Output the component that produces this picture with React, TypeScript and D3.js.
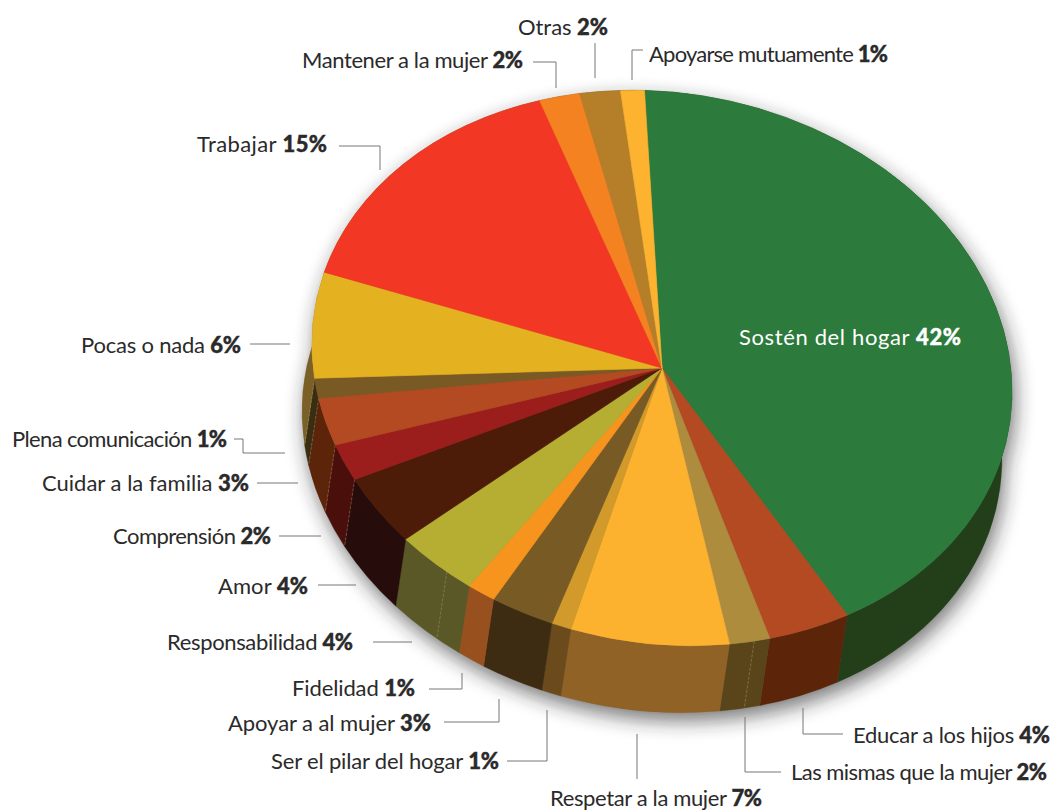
import React from "react";
import * as d3 from "d3";

// Data, clockwise from the top of the pie
const categories = [
  "Sostén del hogar", "Educar a los hijos", "Las mismas que la mujer", "Respetar a la mujer",
  "Ser el pilar del hogar", "Apoyar a al mujer", "Fidelidad", "Responsabilidad", "Amor",
  "Comprensión", "Cuidar a la familia", "Plena comunicación", "Pocas o nada", "Trabajar",
  "Mantener a la mujer", "Otras", "Apoyarse mutuamente",
];
const printedPercents = [42, 4, 2, 7, 1, 3, 1, 4, 4, 2, 3, 1, 6, 15, 2, 2, 1];
const sliceShares = [42, 3.9, 1.9, 7.3, 0.9, 2.9, 1.3, 3.8, 4, 2.1, 2.75, 1.15, 6.2, 15.1, 1.9, 1.9, 1.1];

// Styling and layout
const topColors = [
  "#2c7a3c", "#b34a22", "#ad8c3e", "#fdb22f", "#d19a2a", "#785a25", "#f7941e", "#b5ae33", "#4d1c08",
  "#9b1e1c", "#b34a22", "#7a5a24", "#e4b220", "#f23724", "#f58220", "#b57f2a", "#fdb330",
];
const wallColors = [
  "#223f1a", "#5c2409", "#5a451b", "#906225", "#6b4a1b", "#3d2c12", "#99501f", "#5a5826", "#260c0b",
  "#4a0f0a", "#5c2409", "#3b2d12", "#7a5f27", "#7a5f27", "#7a5f27", "#7a5f27", "#223f1a",
];
const wallSeams = [
  { slice: 2, frac: 0.39 },
  { slice: 7, frac: 0.33 },
  { slice: 9, frac: 0 },
  { slice: 9, frac: 1 },
  { slice: 10, frac: 1 },
  { slice: 11, frac: 1 },
];
type Lay = { x: number; y: number; w: number; leader: [number, number][] };
const layouts: Lay[] = [
  { x: 739, y: 345, w: 222, leader: [] },
  { x: 853, y: 743, w: 197, leader: [[803, 708], [803, 734], [843, 734]] },
  { x: 791, y: 780, w: 256, leader: [[745, 717], [745, 772], [781, 772]] },
  { x: 550, y: 806, w: 212, leader: [[637, 734], [637, 779]] },
  { x: 271, y: 769, w: 228, leader: [[507, 761], [547, 761], [547, 710]] },
  { x: 228, y: 731, w: 203, leader: [[444, 722], [499, 722], [499, 699]] },
  { x: 292, y: 696, w: 123, leader: [[429, 689], [462, 689], [462, 673]] },
  { x: 167, y: 650, w: 186, leader: [[373, 642], [412, 642]] },
  { x: 218, y: 594, w: 90, leader: [[318, 585], [356, 585]] },
  { x: 113, y: 544, w: 158, leader: [[279, 536], [321, 536]] },
  { x: 42, y: 491, w: 207, leader: [[257, 483], [298, 483]] },
  { x: 12, y: 447, w: 215, leader: [[234, 439], [243, 439], [243, 453], [285, 453]] },
  { x: 81, y: 353, w: 160, leader: [[250, 344], [290, 344]] },
  { x: 197, y: 152, w: 130, leader: [[339, 146], [380, 146], [380, 170]] },
  { x: 302, y: 68, w: 221, leader: [[533, 62], [556, 62], [556, 88]] },
  { x: 518, y: 35, w: 90, leader: [[595, 43], [595, 78]] },
  { x: 649, y: 62, w: 239, leader: [[643, 50], [632, 50], [632, 80]] },
];

const W = 1053;
const H = 812;
const CX = 662;
const CY = 368;
const RA = 352;
const RB = 275;
const TILT = 10;
const EX = -10;
const EY = 67;
const START = (-10.7 * Math.PI) / 180;
const FONT = "Lato, 'Open Sans', sans-serif";

const tiltRad = (TILT * Math.PI) / 180;
function rim(t: number): [number, number] {
  const lx = RA * Math.sin(t);
  const ly = -RB * Math.cos(t);
  return [
    CX + lx * Math.cos(tiltRad) - ly * Math.sin(tiltRad),
    CY + lx * Math.sin(tiltRad) + ly * Math.cos(tiltRad),
  ];
}
function wallPath(a0: number, a1: number): string {
  const [x0, y0] = rim(a0);
  const [x1, y1] = rim(a1);
  const large = a1 - a0 > Math.PI ? 1 : 0;
  return (
    `M${x0},${y0}A${RA},${RB} ${TILT} ${large} 1 ${x1},${y1}` +
    `L${x1 + EX},${y1 + EY}A${RA},${RB} ${TILT} ${large} 0 ${x0 + EX},${y0 + EY}Z`
  );
}

const pieLayout = d3
  .pie<number>()
  .value((d) => d)
  .sort(null)
  .startAngle(START)
  .endAngle(START + 2 * Math.PI);
const slices = pieLayout(sliceShares);
const arcGen = d3.arc<d3.PieArcDatum<number>>().innerRadius(0).outerRadius(1);
const lineGen = d3.line();
const ellipseTransform = `translate(${CX},${CY}) rotate(${TILT}) scale(${RA},${RB})`;

export default function App() {
  return (
    <svg
      width={W}
      height={H}
      viewBox={`0 0 ${W} ${H}`}
      style={{ position: "absolute", left: 0, top: 0, display: "block", background: "#fff" }}
    >
      <defs>
        <filter id="soft" x="-20%" y="-20%" width="140%" height="140%">
          <feGaussianBlur stdDeviation="10" />
        </filter>
      </defs>
      <g filter="url(#soft)" opacity={0.62} transform="translate(3,8)">
        {slices.map((s, i) => (
          <path key={i} d={wallPath(s.startAngle, s.endAngle)} fill="#222" />
        ))}
        <path d={arcGen({ ...slices[0], startAngle: 0, endAngle: 2 * Math.PI }) as string} transform={ellipseTransform} fill="#222" />
      </g>
      {slices.map((s, i) => (
        <path key={i} d={wallPath(s.startAngle, s.endAngle)} fill={wallColors[i]} stroke={wallColors[i]} strokeWidth={0.4} />
      ))}
      {wallSeams.map((seam, i) => {
        const s = slices[seam.slice];
        const [x, y] = rim(s.startAngle + (s.endAngle - s.startAngle) * seam.frac);
        return (
          <path
            key={i}
            d={lineGen([[x, y], [x + EX, y + EY]]) as string}
            stroke="#c9bd9a"
            strokeOpacity={0.45}
            strokeWidth={0.7}
            strokeDasharray="3 1.5"
            fill="none"
          />
        );
      })}
      <g transform={ellipseTransform}>
        {slices.map((s, i) => (
          <path key={i} d={arcGen(s) as string} fill={topColors[i]} stroke={topColors[i]} strokeWidth={0.002} />
        ))}
      </g>
      {layouts.map((l, i) =>
        l.leader.length ? (
          <path key={i} d={lineGen(l.leader) as string} fill="none" stroke="#777" strokeWidth={1} />
        ) : null
      )}
      {categories.map((c, i) => (
        <text
          key={c}
          x={layouts[i].x}
          y={layouts[i].y}
          textLength={layouts[i].w}
          lengthAdjust="spacing"
          fontFamily={FONT}
          fontSize={22}
          fill={i === 0 ? "#fff" : "#2b2a2a"}
        >
          {c + " "}
          <tspan fontWeight={900} stroke={i === 0 ? "#fff" : "#2b2a2a"} strokeWidth={0.4}>
            {printedPercents[i]}%
          </tspan>
        </text>
      ))}
    </svg>
  );
}
